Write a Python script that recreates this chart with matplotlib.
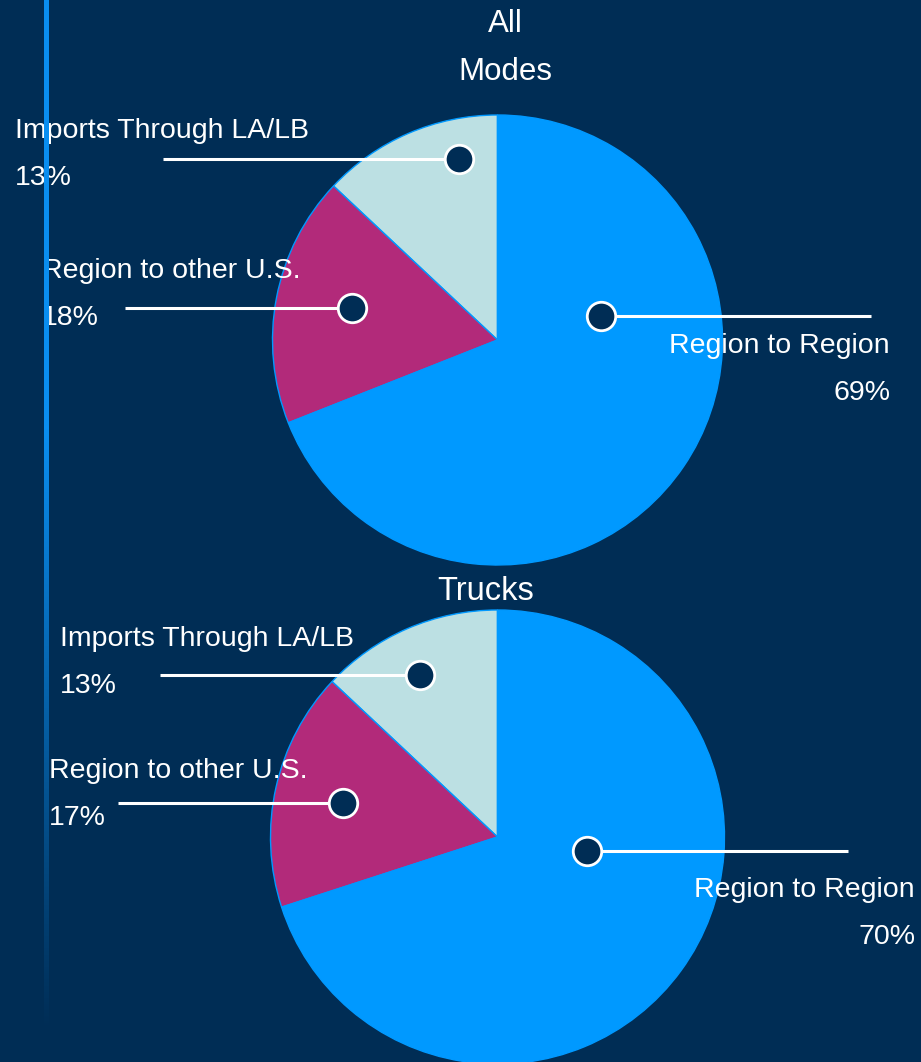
import numpy as np
import matplotlib
matplotlib.use("Agg")
from matplotlib import pyplot as plt
from matplotlib.colors import to_rgb

# data
categories = ["Imports Through LA/LB", "Region to other U.S.", "Region to Region"]
all_modes = [13, 18, 69]
trucks = [13, 17, 70]
titles = ["All\nModes", "Trucks"]

bg = "#002D55"
colors = ["#BCE0E3", "#B22A7A", "#0099FF"]

plt.rcParams['font.family'] = ['Liberation Sans', 'DejaVu Sans']

W, H = 921, 1062
fig = plt.figure(figsize=(W / 100, H / 100), dpi=100, facecolor=bg)
ax = fig.add_axes([0, 0, 1, 1])
ax.set_facecolor(bg)

def Y(y):
    # pixel row -> data y
    return H - y

# layout (pixels) for each pie
layouts = [
    dict(center=(497.5, 340), radius=225, title=(505, 48), tsize=22.5,
         markers=[(459, 159), (352, 308), (601, 316)],
         line_ends=[163, 125, 871],
         labels=[(15, 131, 'left'), (42, 271, 'left'), (890, 346, 'right')]),
    dict(center=(497.5, 837), radius=227, title=(486, 592), tsize=23.5,
         markers=[(420, 675), (343, 803), (587, 851)],
         line_ends=[160, 118, 848],
         labels=[(60, 639, 'left'), (49, 771, 'left'), (915, 890, 'right')]),
]

for vals, title, lay in zip([all_modes, trucks], titles, layouts):
    cx, cy = lay["center"]
    ax.pie(vals, colors=colors, startangle=90, counterclock=True,
           center=(cx, Y(cy)), radius=lay["radius"],
           wedgeprops=dict(edgecolor="#0099FF", linewidth=1))
    ax.text(lay["title"][0], Y(lay["title"][1]), title, color="white",
            fontsize=lay["tsize"], ha="center", va="center", linespacing=1.75)
    for name, v, (mx, my), lx, (tx, ty, ha) in zip(categories, vals, lay["markers"],
                                                   lay["line_ends"], lay["labels"]):
        ax.plot([lx, mx], [Y(my), Y(my)], color="white", lw=2.2, zorder=4,
                solid_capstyle="butt")
        ax.plot(mx, Y(my), "o", ms=20.5, mfc=bg, mec="white", mew=2, zorder=5)
        ax.text(tx, Y(ty), name, color="white", fontsize=20.5, ha=ha, va="center", zorder=6)
        ax.text(tx, Y(ty + 47), f"{v}%", color="white", fontsize=20.5, ha=ha, va="center", zorder=6)

# fading vertical accent line on the left
n = 400
ys = np.linspace(0, 1025, n)
c1 = np.array(to_rgb("#0A8EF0"))
c0 = np.array(to_rgb(bg))
t = np.clip((ys - 430) / (1030 - 430), 0, 1)
grad = (c1[None, :] * (1 - t[:, None]) + c0[None, :] * t[:, None])[:, None, :]
ax.imshow(grad, extent=(44, 48.5, Y(1025), Y(0)), aspect="auto", zorder=7,
          interpolation="bilinear")

ax.set_xlim(0, W)
ax.set_ylim(0, H)
ax.set_aspect("auto")
ax.axis("off")

fig.savefig("out.png", dpi=100, facecolor=bg)
